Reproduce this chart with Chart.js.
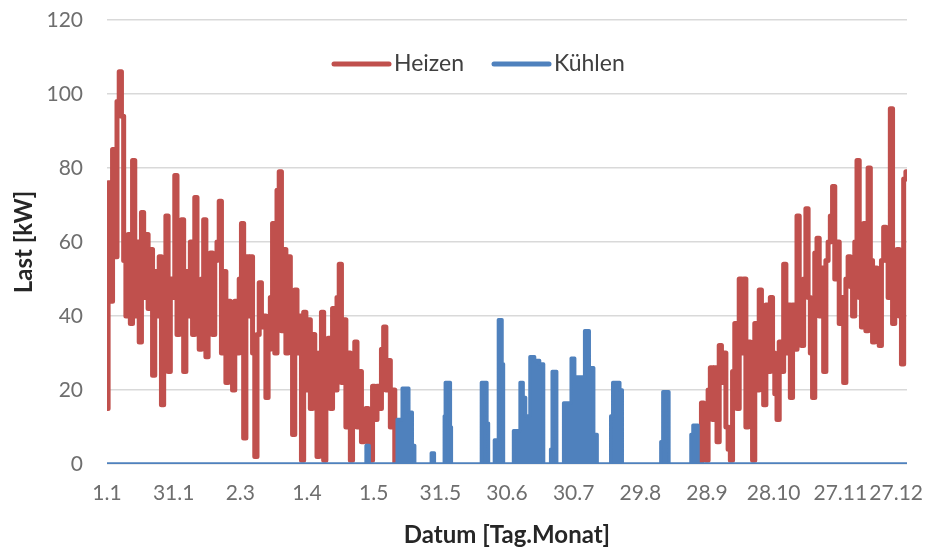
<!DOCTYPE html>
<html>
<head>
<meta charset="utf-8">
<script src="https://cdn.jsdelivr.net/npm/chart.js@4.4.1/dist/chart.umd.min.js"></script>
<style>
  html, body { margin: 0; padding: 0; background: #fff; }
  #wrap { width: 928px; height: 550px; }
</style>
</head>
<body>
<div id="wrap"><canvas id="last" width="928" height="550"></canvas></div>
<script>
// x-Achse in Tagen ab 1.1., Beschriftung alle 30 Tage
const tickTage = [0, 30, 60, 90, 120, 150, 180, 210, 240, 270, 300, 330, 360];
const tickLabels = ['1.1', '31.1', '2.3', '1.4', '1.5', '31.5', '30.6', '30.7', '29.8', '28.9', '28.10', '27.11', '27.12'];

// Heizlast [kW], ein Wert pro Tag ab Tag 0 (1.1.)
const heizenFruehjahrStart = 0;
const heizenFruehjahr = [
  15, 76, 44, 85, 56, 98, 106, 94, 55, 40,
  62, 38, 82, 40, 60, 33, 68, 45, 62, 42,
  58, 24, 52, 40, 56, 16, 48, 67, 25, 50,
  45, 78, 35, 56, 66, 25, 52, 40, 60, 35,
  72, 38, 31, 50, 66, 29, 48, 57, 35, 55,
  60, 71, 30, 52, 22, 44, 35, 20, 44, 30,
  50, 65, 7, 56, 40, 56, 30, 2, 35, 49,
  37, 40, 18, 31, 45, 65, 30, 74, 79, 36,
  58, 30, 56, 35, 8, 47, 30, 40, 1, 41,
  20, 39, 15, 35, 30, 2, 30, 41, 1, 28,
  34, 15, 42, 20, 45, 54, 22, 39, 10, 30,
  1, 25, 33, 10, 25, 6, 12, 15, 5, 1,
  21, 12, 21, 15, 31, 37, 20, 28, 10, 20,
  0
];

// Heizlast [kW], ein Wert pro Tag ab Tag 267
const heizenHerbstStart = 267;
const heizenHerbst = [
  0, 16.5, 8, 1, 20, 26, 12, 26, 6, 32,
  22, 30, 10, 4, 1, 25, 38, 15, 50, 30,
  50, 10, 33, 20, 1, 38, 20, 47, 23, 16,
  43, 25, 45, 30, 19, 12, 33, 25, 54, 30,
  43, 18, 43, 31, 67, 35, 32, 50, 69, 45,
  30, 18, 57, 61, 40, 53, 25, 55, 60, 67,
  75, 50, 60, 38, 45, 22, 50, 56, 48, 40,
  60, 82, 45, 37, 65, 36, 80, 55, 33, 53,
  40, 32, 55, 64, 55, 45, 96, 38, 50, 58,
  40, 27, 77, 79
];

// Kühllast [kW] an einzelnen Tagen
const kuehlenTage = [
  0, 116.4, 116.8, 117.7, 118.2,
  130.4, 130.8, 132.2, 133.5, 134.9, 136.7, 138, 138.9,
  145.7, 146.2, 147.1, 147.5,
  151.6, 152, 152.5, 154.3, 154.7, 155.2,
  168.3, 168.7, 170.5, 171.4, 171.9,
  174.1, 174.6, 175.9, 176.4, 177.3, 178.2, 178.6,
  182.7, 183.2, 185, 186.8, 187.7, 189, 191.7, 193.1, 196.2, 196.7,
  199.4, 199.9, 200.8, 202.1, 202.6,
  205.3, 205.7, 208, 209.8, 211.1, 213.8, 216.1, 217.9, 220.1, 221,
  226.5, 226.9, 228.3, 230.1, 231.4, 232.3,
  249, 249.5, 250.8, 252.6, 253.1,
  262.6, 263, 264.4, 265.7, 266.2,
  360
];
const kuehlenWerte = [
  0, 0, 5, 5, 0,
  0, 12, 12, 20.5, 20.5, 14, 5, 0,
  0, 3, 3, 0,
  0, 13, 22, 22, 10, 0,
  0, 22, 22, 11, 0,
  0, 6.5, 6.5, 39, 39, 27, 0,
  0, 9, 9, 22, 18, 13, 29, 28, 27, 0,
  0, 4, 25, 25, 0,
  0, 16.5, 16.5, 28.6, 23.5, 23.5, 36, 26, 8, 0,
  0, 13, 22, 22, 20, 0,
  0, 6, 19.5, 19.5, 0,
  0, 8, 10.5, 10.5, 0,
  0
];

const heizenPunkte = heizenFruehjahr.map((v, i) => ({ x: heizenFruehjahrStart + i, y: v }))
  .concat([{ x: 200, y: null }])
  .concat(heizenHerbst.map((v, i) => ({ x: heizenHerbstStart + i, y: v })));
const kuehlenPunkte = kuehlenTage.map((t, i) => ({ x: t, y: kuehlenWerte[i] }));

const FONT = 'Lato, "Open Sans", sans-serif';

// Legende oben im Diagramm (wie im Original über den Gitterlinien)
const innenLegende = {
  id: 'innenLegende',
  afterDraw(chart) {
    const ctx = chart.ctx;
    ctx.save();
    ctx.font = '23px ' + FONT;
    ctx.textBaseline = 'middle';
    ctx.textAlign = 'left';
    let x = 334;
    const y = 64;
    chart.data.datasets.forEach(ds => {
      ctx.strokeStyle = ds.borderColor;
      ctx.lineWidth = 5;
      ctx.lineCap = 'round';
      ctx.beginPath();
      ctx.moveTo(x, y);
      ctx.lineTo(x + 55, y);
      ctx.stroke();
      ctx.fillStyle = '#404040';
      ctx.fillText(ds.label, x + 60, y);
      x += 60 + ctx.measureText(ds.label).width + 30;
    });
    ctx.restore();
  }
};

// x-Beschriftung, letzte Beschriftung bleibt im Bild
const xBeschriftung = {
  id: 'xBeschriftung',
  afterDraw(chart) {
    const { ctx, chartArea } = chart;
    const xs = chart.scales.x;
    ctx.save();
    ctx.font = '21px ' + FONT;
    ctx.fillStyle = '#6e6e6e';
    ctx.textBaseline = 'middle';
    ctx.textAlign = 'center';
    tickTage.forEach((t, i) => {
      const w = ctx.measureText(tickLabels[i]).width;
      const cx = Math.min(xs.getPixelForValue(t), chart.width - 5 - w / 2);
      ctx.fillText(tickLabels[i], cx, chartArea.bottom + 29);
    });
    ctx.restore();
  }
};

new Chart(document.getElementById('last'), {
  type: 'line',
  data: {
    datasets: [{
      label: 'Heizen',
      data: heizenPunkte,
      borderColor: '#C0504D',
      backgroundColor: '#C0504D',
      borderWidth: 5,
      pointRadius: 0,
      stepped: 'middle',
      spanGaps: false,
      borderJoinStyle: 'round',
      borderCapStyle: 'round',
      order: 1
    }, {
      label: 'Kühlen',
      data: kuehlenPunkte,
      borderColor: '#4F81BD',
      backgroundColor: '#4F81BD',
      borderWidth: 3.5,
      pointRadius: 0,
      stepped: 'middle',
      fill: 'origin',
      borderJoinStyle: 'round',
      borderCapStyle: 'round',
      order: 0
    }]
  },
  options: {
    responsive: false,
    animation: false,
    devicePixelRatio: 1,
    layout: { padding: { left: 0, right: 21, top: 20, bottom: 0 } },
    plugins: { legend: { display: false }, tooltip: { enabled: false } },
    scales: {
      x: {
        type: 'linear',
        min: 0,
        max: 360,
        afterBuildTicks: s => { s.ticks = tickTage.map(v => ({ value: v })); },
        afterFit: s => { s.height = 86; s.paddingLeft = 0; s.paddingRight = 0; },
        ticks: { display: false },
        grid: { display: false },
        border: { display: false },
        title: {
          display: true,
          text: 'Datum [Tag.Monat]',
          color: '#262626',
          font: { family: FONT, size: 24, weight: 'bold' },
          padding: { top: 0, bottom: 0 }
        }
      },
      y: {
        min: 0,
        max: 120,
        afterFit: s => { s.width = 107; s.paddingTop = 0; s.paddingBottom = 0; },
        ticks: {
          stepSize: 20,
          padding: 24,
          color: '#6e6e6e',
          font: { family: FONT, size: 21 }
        },
        grid: { color: '#d9d9d9', lineWidth: 1.5, drawTicks: false },
        border: { display: false },
        title: {
          display: true,
          text: 'Last [kW]',
          color: '#262626',
          font: { family: FONT, size: 24, weight: 'bold' },
          padding: { top: 10, bottom: 0 }
        }
      }
    }
  },
  plugins: [innenLegende, xBeschriftung]
});
</script>
</body>
</html>
